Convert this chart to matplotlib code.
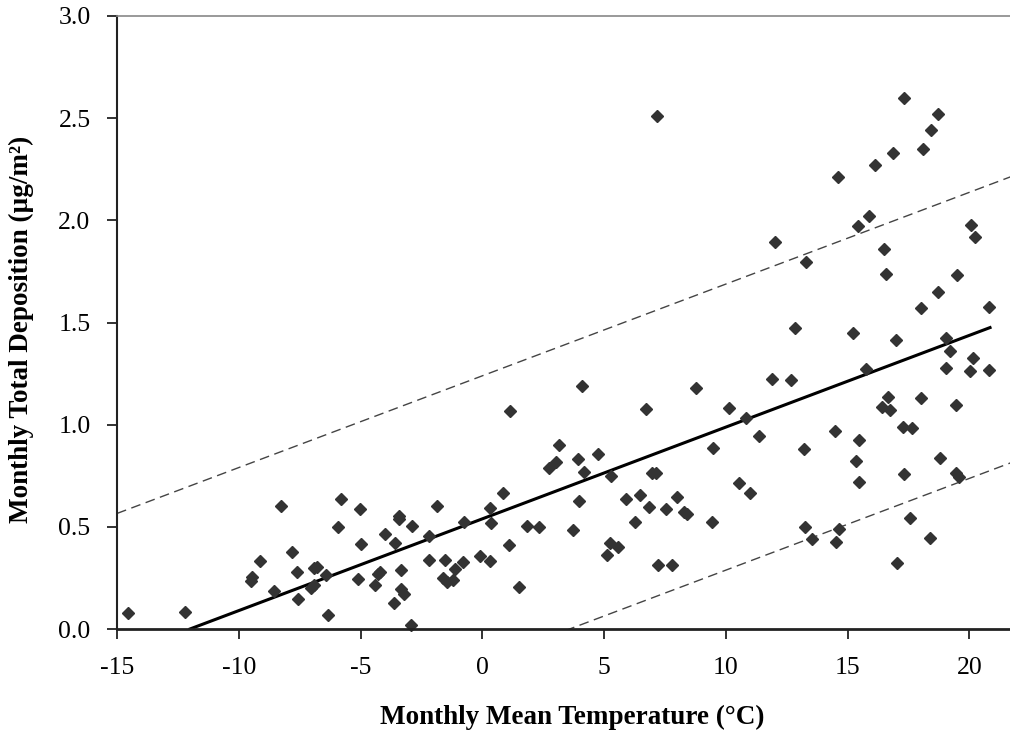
import matplotlib.pyplot as plt

# monthly mean temperature (deg C) and monthly total deposition (ug/m2)
temp = [
    -14.53, -12.19, -9.46, -9.48, -9.11, -8.54, -8.28, -7.83, -7.62, -7.57,
    -7.03, -6.91, -6.91, -6.77, -6.40, -6.35, -5.94, -5.80, -5.01, -4.99,
    -5.09, -4.39, -4.30, -4.20, -3.99, -3.60, -3.43, -3.41, -2.89, -3.32,
    -3.35, -3.21, -3.61, -2.93, -2.19, -2.20, -1.87, -1.52, -1.63, -1.46,
    -1.19, -1.12, -0.79, -0.74, -0.09, 0.33, 0.32, 0.37, 0.84, 1.08,
    1.15, 1.51, 1.85, 2.33, 2.73, 3.03, 3.15, 4.10, 3.95, 4.18,
    4.75, 3.96, 3.74, 5.29, 5.25, 5.56, 5.11, 5.90, 6.48, 6.27,
    6.86, 6.72, 6.97, 7.12, 7.20, 7.77, 7.54, 8.01, 8.28, 8.39,
    8.78, 9.49, 9.43, 10.15, 10.83, 11.37, 10.56, 10.98, 11.90, 12.66,
    12.85, 15.23, 16.98, 19.05, 19.20, 20.14, 19.03, 20.03, 20.80, 15.77,
    16.68, 16.40, 16.76, 18.02, 19.46, 17.29, 17.64, 14.50, 15.46, 13.22,
    15.33, 15.46, 17.30, 18.80, 19.46, 19.58, 17.58, 13.24, 13.54, 14.63,
    14.54, 18.39, 17.02, 7.18, 17.33, 18.73, 18.41, 18.09, 16.85, 16.14,
    14.62, 15.88, 15.43, 20.07, 20.25, 12.01, 13.30, 16.50, 16.58, 19.48,
    18.70, 18.03, 20.82,
]
deposition = [
    0.077, 0.082, 0.256, 0.233, 0.331, 0.186, 0.604, 0.378, 0.281, 0.145,
    0.201, 0.217, 0.297, 0.305, 0.266, 0.069, 0.499, 0.638, 0.589, 0.414,
    0.243, 0.214, 0.270, 0.280, 0.463, 0.421, 0.553, 0.540, 0.506, 0.289,
    0.196, 0.171, 0.127, 0.021, 0.454, 0.336, 0.604, 0.336, 0.250, 0.228,
    0.240, 0.292, 0.326, 0.524, 0.357, 0.331, 0.591, 0.517, 0.666, 0.411,
    1.066, 0.206, 0.506, 0.499, 0.790, 0.819, 0.901, 1.191, 0.830, 0.767,
    0.858, 0.625, 0.483, 0.751, 0.419, 0.400, 0.361, 0.638, 0.656, 0.524,
    0.599, 1.078, 0.764, 0.764, 0.312, 0.312, 0.587, 0.646, 0.571, 0.563,
    1.180, 0.884, 0.524, 1.083, 1.034, 0.945, 0.713, 0.664, 1.224, 1.219,
    1.475, 1.447, 1.413, 1.424, 1.359, 1.326, 1.278, 1.265, 1.266, 1.271,
    1.137, 1.085, 1.072, 1.129, 1.096, 0.989, 0.984, 0.968, 0.925, 0.880,
    0.821, 0.718, 0.760, 0.837, 0.765, 0.742, 0.543, 0.498, 0.441, 0.489,
    0.424, 0.445, 0.323, 2.511, 2.599, 2.518, 2.441, 2.348, 2.328, 2.269,
    2.211, 2.023, 1.971, 1.976, 1.919, 1.893, 1.795, 1.859, 1.739, 1.734,
    1.648, 1.571, 1.575,
]

# fitted line and prediction band
fit_slope = 0.0449
fit_intercept = 0.539
band_offset = 0.70
fit_range = [-12.0, 20.85]
band_range = [-15.0, 21.7]

plt.rcParams["font.family"] = ["Liberation Serif", "DejaVu Serif"]
plt.rcParams["axes.unicode_minus"] = False

fig = plt.figure(figsize=(10.1, 7.32), dpi=100)
ax = fig.add_axes([117 / 1010, 1 - 629 / 732, 1 - 117 / 1010, (629 - 16) / 732])

fit_y = [fit_intercept + fit_slope * x for x in fit_range]
upper_y = [fit_intercept + band_offset + fit_slope * x for x in band_range]
lower_y = [fit_intercept - band_offset + fit_slope * x for x in band_range]

ax.plot(band_range, upper_y, color="#444444", lw=1.0, dashes=(7, 4))
ax.plot(band_range, lower_y, color="#444444", lw=1.0, dashes=(7, 4))
ax.plot(fit_range, fit_y, color="black", lw=2.2)
ax.plot(temp, deposition, "D", color="#333333", markersize=6, ls="none",
        clip_on=False)

ax.set_xlim(-15, 21.67)
ax.set_ylim(0, 3.0)
ax.set_xticks(range(-15, 21, 5))
yticks = [0, 0.5, 1.0, 1.5, 2.0, 2.5, 3.0]
ax.set_yticks(yticks)
ax.set_yticklabels([f"{v:.1f}" for v in yticks])

ax.spines["right"].set_visible(False)
ax.spines["top"].set_color("#888888")
ax.spines["top"].set_linewidth(1.2)
ax.spines["left"].set_color("#222222")
ax.spines["left"].set_linewidth(1.5)
ax.spines["bottom"].set_color("#222222")
ax.spines["bottom"].set_linewidth(2.0)

ax.tick_params(direction="out", length=7, width=1.3, color="#222222",
               labelsize=18.5)
ax.tick_params(axis="x", pad=13)
ax.tick_params(axis="y", pad=12)

ax.set_xlabel("Monthly Mean Temperature (\u00b0C)", fontsize=19.5,
              fontweight="bold")
ax.set_ylabel("Monthly Total Deposition (\u00b5g/m\u00b2)", fontsize=19.5,
              fontweight="bold")
ax.xaxis.set_label_coords(0.51, -0.124)
ax.yaxis.set_label_coords(-0.093, 0.488)

fig.savefig("out.png", dpi=100)
